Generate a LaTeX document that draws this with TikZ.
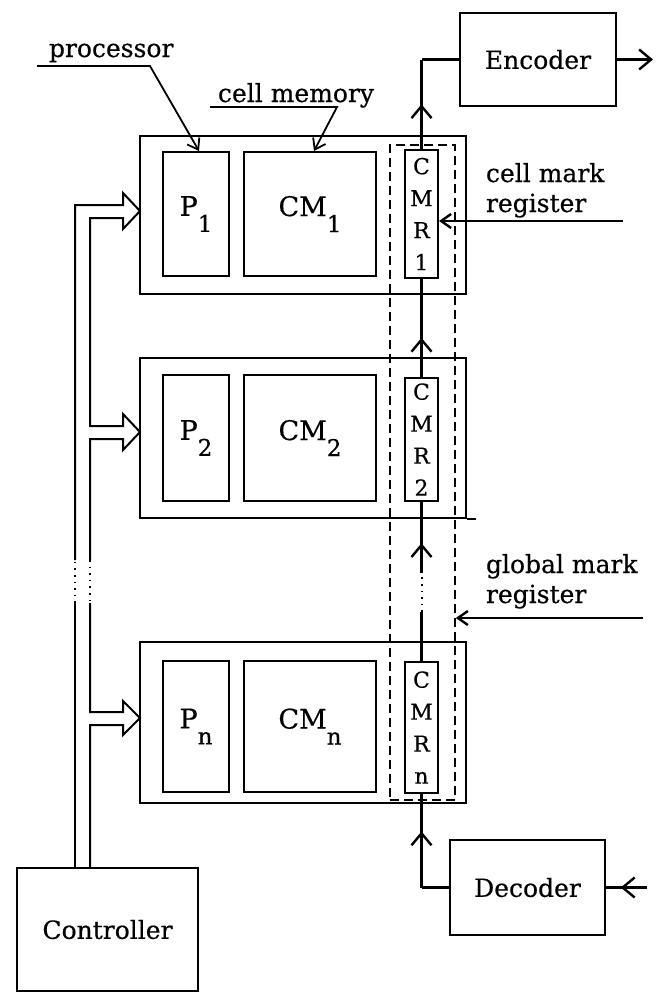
\documentclass[tikz,border=0pt]{standalone}
\usepackage{fontspec}
\setmainfont{DejaVu Serif}[FakeBold=0.5]
\usetikzlibrary{arrows.meta,decorations.markings,calc}
\newcommand\lsub[1]{\raisebox{-16pt}{\fontsize{23}{23}\selectfont #1}}
\begin{document}
\begin{tikzpicture}[x=1pt,y=-1pt,
  line width=2pt,
  box/.style={draw, rectangle, inner sep=0pt, line width=2pt},
  lbl/.style={font=\fontsize{25}{30}\selectfont, inner sep=0pt},
  big/.style={font=\fontsize{27}{30}\selectfont},
  reg/.style={box, font=\fontsize{22}{32}\selectfont, align=center},
  sig/.style={line width=2.4pt},
  thin/.style={line width=1.8pt},
  barb/.style={-{Straight Barb[length=12pt,width=20pt]}},
  sbarb/.style={-{Straight Barb[length=10pt,width=14pt]}},
  midarr/.style={postaction={decorate}, decoration={markings, mark=at position #1 with {\arrow{Straight Barb[length=12pt,width=20pt]}}}},
  gmrstyle/.style={draw, dash pattern=on 9pt off 5pt, line width=1.6pt, inner sep=0pt, rectangle},
  dots/.style={line width=2pt, dash pattern=on 1.6pt off 5pt}
]
\useasboundingbox (0,0) rectangle (658,993);

% cells
\node[box, minimum width=326pt, minimum height=158pt] (cell1) at (303,215) {};
\node[box, minimum width=326pt, minimum height=160pt] (cell2) at (303,438) {};
\node[box, minimum width=326pt, minimum height=161pt] (celln) at (303,722.5) {};
\draw[box] (cell2.south east) -- ++(9,0);

% processors
\node[box, big, minimum width=66pt, minimum height=124pt] (p1) at (196,214) {P\lsub{1}};
\node[box, big, minimum width=66pt, minimum height=126pt] (p2) at (196,438) {P\lsub{2}};
\node[box, big, minimum width=66pt, minimum height=131pt] (pn) at (196,726.5) {P\lsub{n}};

% cell memories
\node[box, big, minimum width=132pt, minimum height=124pt] (cm1) at (310,214) {CM\lsub{1}};
\node[box, big, minimum width=132pt, minimum height=126pt] (cm2) at (310,438) {CM\lsub{2}};
\node[box, big, minimum width=132pt, minimum height=131pt] (cmn) at (310,726.5) {CM\lsub{n}};

% cell mark registers
\node[reg, minimum width=33pt, minimum height=128pt] (cmr1) at (421.5,214) {C\\M\\R\\1};
\node[reg, minimum width=33pt, minimum height=123pt] (cmr2) at (421.5,439.5) {C\\M\\R\\2};
\node[reg, minimum width=33pt, minimum height=131pt] (cmrn) at (421.5,727.5) {C\\M\\R\\n};

% global mark register (dashed)
\node[gmrstyle, minimum width=65pt, minimum height=655pt] (gmr) at (422.5,472.5) {};

% encoder / decoder / controller
\node[box, lbl, minimum width=156pt, minimum height=93pt] (enc) at (538,59.5) {Encoder};
\node[box, lbl, minimum width=155pt, minimum height=95pt] (dec) at (527.5,887.5) {Decoder};
\node[box, lbl, minimum width=181pt, minimum height=123pt] (ctrl) at (107.5,929.5) {Controller};

% mark chain
\coordinate (ej) at (cmr1.north |- enc.west);
\draw[sig, midarr=0.5] (cmr1.north) -- (ej);
\draw[sig] (ej) -- (enc.west);
\coordinate (encout) at (653,59.5);
\draw[sig, barb] (enc.east) -- (encout);

\draw[sig, midarr=0.4] (cmr2.north) -- (cmr1.south);
\coordinate (d1) at (421.5,573);
\coordinate (d2) at (421.5,612);
\draw[sig, midarr=0.42] (d1) -- (cmr2.south);
\draw[dots] (d2) -- (d1);
\draw[sig] (cmrn.north) -- (d2);
\coordinate (dj) at (dec.west -| cmrn.south);
\draw[sig] (dec.west) -- (dj);
\draw[sig, midarr=0.6] (dj) -- (cmrn.south);
\coordinate (decin) at (647,887.5);
\draw[sig, midarr=0.64] (decin) -- (dec.east);

% labels
\node[lbl, anchor=base west] (cml1) at (485,182) {cell mark};
\node[lbl, anchor=base west] (cml2) at (485,212) {register};
\coordinate (cmrin) at (623,221);
\draw[sig, sbarb] (cmrin) -- (cmrin -| cmr1.east);

\node[lbl, anchor=base west] (gml1) at (485,573) {global mark};
\node[lbl, anchor=base west] (gml2) at (485,603) {register};
\coordinate (gmin) at (643,618);
\draw[sig, sbarb] (gmin) -- (gmin -| gmr.east);

\node[lbl, anchor=base west] (proc) at (48,57) {processor};
\coordinate (pu1) at (37,66);
\coordinate (pu2) at (150,66);
\coordinate (ptip) at ($(p1.north west)+(37,0)$);
\draw[thin, sbarb] (pu1) -- (pu2) -- (ptip);

\node[lbl, anchor=base west] (cmem) at (217,102) {cell memory};
\coordinate (mu1) at (210,107);
\coordinate (mu2) at (337,107);
\coordinate (mtip) at ($(cm1.north west)+(71,0)$);
\draw[thin, sbarb] (mu1) -- (mu2) -- (mtip);

% controller bus with hollow arrows
\draw[box] (75,868) -- (75,603);
\draw[dots] (75,603) -- (75,560);
\draw[box, line join=miter] (75,560) -- (75,205) -- (123,205) -- (123,193) -- (140,211) -- (123,229) -- (123,218) -- (90,218)
  -- (90,426) -- (123,426) -- (123,414) -- (140,432) -- (123,450) -- (123,439) -- (90,439) -- (90,560);
\draw[dots] (90,560) -- (90,603);
\draw[box, line join=miter] (90,603) -- (90,712) -- (123,712) -- (123,701) -- (140,718) -- (123,735) -- (123,725) -- (90,725) -- (90,868);
\end{tikzpicture}
\end{document}
